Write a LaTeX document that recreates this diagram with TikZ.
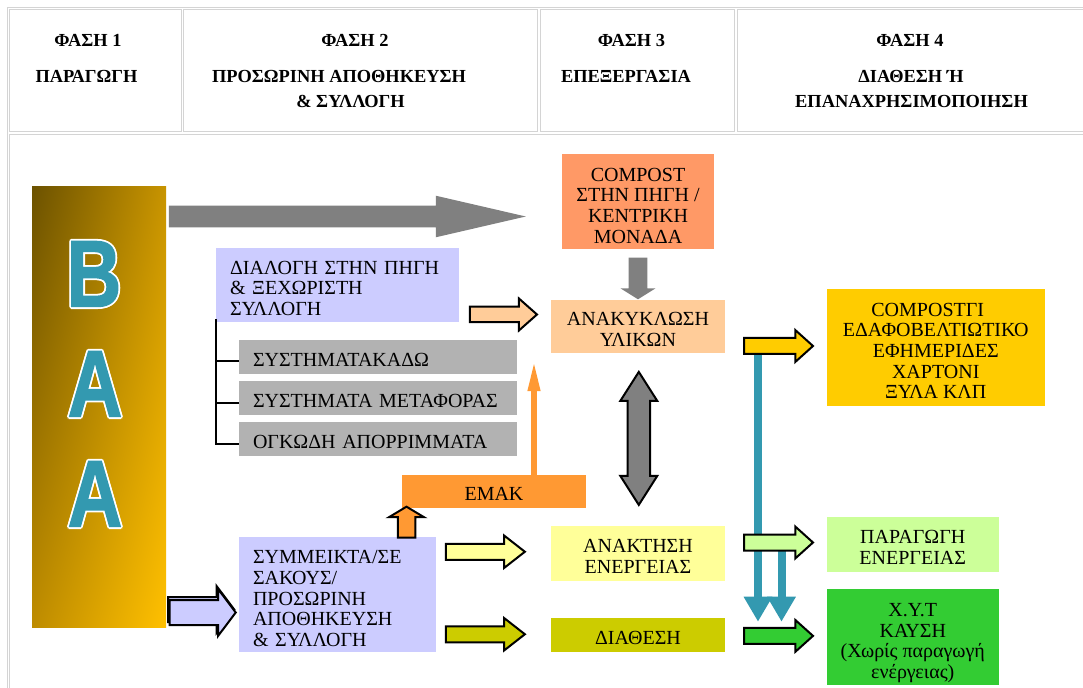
\documentclass[tikz,border=0pt]{standalone}
\usepackage{fontspec}
\usepackage{graphicx}
\setmainfont{Liberation Serif}
\newfontfamily\lsans{Liberation Sans}[BoldFeatures={FakeBold=1.5}]
\usetikzlibrary{shapes.arrows,arrows.meta,calc,shadings}
\definecolor{lav}{HTML}{CCCCFF}
\definecolor{gbox}{HTML}{B2B2B2}
\definecolor{salmon}{HTML}{FF9966}
\definecolor{peach}{HTML}{FFCC99}
\definecolor{emakor}{HTML}{FF9933}
\definecolor{goldc}{HTML}{FFCC00}
\definecolor{lyellow}{HTML}{FFFF99}
\definecolor{olivec}{HTML}{CCCC00}
\definecolor{lgreen}{HTML}{CCFF99}
\definecolor{grn}{HTML}{33CC33}
\definecolor{tealc}{HTML}{3399B0}
\definecolor{agray}{HTML}{808080}
\definecolor{cellc}{HTML}{D4D4D4}
\definecolor{baaTL}{RGB}{108,82,0}
\definecolor{baaTR}{RGB}{200,148,0}
\definecolor{baaBL}{RGB}{190,140,0}
\definecolor{baaBR}{RGB}{255,192,0}
\newcommand\pxu{0.75pt}
\newcommand\bdfont{\fontsize{15}{15.5}\selectfont}
\newcommand\hdrfont{\fontsize{13.8}{14}\selectfont\bfseries}
\newcommand\letfont{\fontsize{71}{71}\selectfont\lsans\bfseries}
\newcommand\dn[1]{\rule{0pt}{#1}}
\begin{document}
\begin{tikzpicture}[x=0.75pt,y=-0.75pt,
  cell/.style={draw=cellc, line width=0.75pt},
  hdr/.style={font=\hdrfont, anchor=base, inner sep=0},
  box/.style={inner sep=0, outer sep=0, font=\bdfont, text=black},
  lbox/.style={box, align=left, inner xsep=14*\pxu},
  cbox/.style={box, align=center},
  blk/.style={single arrow, draw=black, line width=1.5pt, single arrow head indent=0pt, anchor=tip},
  garrow/.style={single arrow, draw=none, fill=agray, single arrow head indent=0pt, anchor=tip},
  tree/.style={draw=black, line width=1.5pt},
  tealline/.style={draw=tealc, line width=6pt, -{Triangle[width=20.25pt,length=18.75pt]}},
  orline/.style={draw=emakor, line width=4pt, -{Triangle[width=8.6pt,length=22.5pt]}},
  bigletter/.style={font=\letfont, anchor=base, inner sep=0}
]
\useasboundingbox (0,0) rectangle (1083,688);
\fill[white] (0,0) rectangle (1083,688);

% table
\draw[cell] (1100,7.5) -- (7.5,7.5) -- (7.5,700);
\draw[cell] (9.5,10) rectangle (181,132);
\draw[cell] (183,10) rectangle (537.5,132);
\draw[cell] (540,10) rectangle (734.5,132);
\draw[cell] (737.5,10) rectangle (1100,132);
\draw[cell] (9.5,135) rectangle (1100,700);

% header texts
\node[hdr] (h1a) at (88,46.5) {ΦΑΣΗ 1};
\node[hdr] (h1b) at (86.5,83) {ΠΑΡΑΓΩΓΗ};
\node[hdr] (h2a) at (355,46.5) {ΦΑΣΗ 2};
\node[hdr] (h2b) at (339,83) {ΠΡΟΣΩΡΙΝΗ ΑΠΟΘΗΚΕΥΣΗ};
\node[hdr] (h2c) at (350.5,108) {\& ΣΥΛΛΟΓΗ};
\node[hdr] (h3a) at (631.5,46.5) {ΦΑΣΗ 3};
\node[hdr] (h3b) at (626,83) {ΕΠΕΞΕΡΓΑΣΙΑ};
\node[hdr] (h4a) at (910,46.5) {ΦΑΣΗ 4};
\node[hdr] (h4b) at (911,83) {ΔΙΑΘΕΣΗ Ή};
\node[hdr] (h4c) at (911.5,108) {ΕΠΑΝΑΧΡΗΣΙΜΟΠΟΙΗΣΗ};

% BAA column
\node[inner sep=0, minimum width=134*\pxu, minimum height=440*\pxu,
  upper left=baaTL, upper right=baaTR, lower left=baaBL, lower right=baaBR] (baa) at (99,407) {};
\foreach \lx/\ly/\lt/\nm in {94/306.5/B/lb, 95/416.5/A/la, 95/526.5/A/lc}{
  \foreach \a in {0,45,...,315}{
    \node[bigletter, text=white] at ($(\lx,\ly)+(\a:1.8)$) {\scalebox{0.8}[1]{\lt}};
  }
  \node[bigletter, text=tealc] (\nm) at (\lx,\ly) {\scalebox{0.8}[1]{\lt}};
}

% big gray arrow
\node[garrow, inner sep=10.5*\pxu, minimum height=357*\pxu, minimum width=41*\pxu, single arrow head extend=10*\pxu, single arrow tip angle=26] (bigarr) at (527,216.5) {};

% boxes
\node[lbox, fill=lav, minimum height=74*\pxu, text width=215*\pxu] (lav1) at (337.5,285) {\dn{15.1pt}ΔΙΑΛΟΓΗ ΣΤΗΝ ΠΗΓΗ\\\& ΞΕΧΩΡΙΣΤΗ\\ΣΥΛΛΟΓΗ};
\node[lbox, fill=gbox, minimum height=34*\pxu, text width=250*\pxu] (g1) at (378,357) {\dn{13.7pt}ΣΥΣΤΗΜΑΤΑΚΑΔΩ};
\node[lbox, fill=gbox, minimum height=34*\pxu, text width=250*\pxu] (g2) at (378,398) {\dn{13.7pt}ΣΥΣΤΗΜΑΤΑ ΜΕΤΑΦΟΡΑΣ};
\node[lbox, fill=gbox, minimum height=34*\pxu, text width=250*\pxu] (g3) at (378,439) {\dn{13.7pt}ΟΓΚΩΔΗ ΑΠΟΡΡΙΜΜΑΤΑ};
\node[lbox, fill=lav, minimum height=115*\pxu, text width=169*\pxu] (lav2) at (337.5,594.5) {\dn{15.9pt}ΣΥΜΜΕΙΚΤΑ/ΣΕ\\ΣΑΚΟΥΣ/\\ΠΡΟΣΩΡΙΝΗ\\ΑΠΟΘΗΚΕΥΣΗ\\\& ΣΥΛΛΟΓΗ};
\node[cbox, fill=emakor, minimum width=184*\pxu, minimum height=33*\pxu] (emak) at (494,491) {\dn{13.8pt}ΕΜΑΚ};
\node[cbox, fill=salmon, minimum width=152*\pxu, minimum height=95*\pxu] (comp) at (638,201.5) {\dn{15.9pt}COMPOST\\ΣΤΗΝ ΠΗΓΗ /\\ΚΕΝΤΡΙΚΗ\\ΜΟΝΑΔΑ};
\node[cbox, fill=peach, minimum width=174*\pxu, minimum height=53*\pxu] (anak) at (638,326.5) {\dn{14.4pt}ΑΝΑΚΥΚΛΩΣΗ\\ΥΛΙΚΩΝ};
\node[cbox, fill=lyellow, minimum width=174*\pxu, minimum height=55*\pxu] (anakt) at (638,553.5) {\dn{14.4pt}ΑΝΑΚΤΗΣΗ\\ΕΝΕΡΓΕΙΑΣ};
\node[cbox, fill=olivec, minimum width=174*\pxu, minimum height=34*\pxu] (diath) at (638,635) {\dn{14.4pt}ΔΙΑΘΕΣΗ};
\node[cbox, fill=goldc, minimum width=218.5*\pxu, minimum height=116.7*\pxu] (compgi) at (935.75,347.35) {\dn{15.1pt}COMPOSTΓΙ\hspace*{12pt}\\ΕΔΑΦΟΒΕΛΤΙΩΤΙΚΟ\\ΕΦΗΜΕΡΙΔΕΣ\\ΧΑΡΤΟΝΙ\\ΞΥΛΑ ΚΛΠ};
\node[cbox, fill=lgreen, minimum width=172.5*\pxu, minimum height=54.7*\pxu] (parag) at (912.75,544.35) {\dn{14.4pt}ΠΑΡΑΓΩΓΗ\\ΕΝΕΡΓΕΙΑΣ};
\node[cbox, fill=grn, minimum width=172.5*\pxu, minimum height=96*\pxu] (xyt) at (912.75,637) {\dn{18.9pt}Χ.Υ.Τ\\ΚΑΥΣΗ\\(Χωρίς παραγωγή\\ενέργειας)};

% tree
\coordinate (b1) at ($(g1.west)+(0,4.5)$);
\coordinate (b2) at ($(g2.west)+(0,4.5)$);
\coordinate (b3) at ($(g3.west)+(0,4.5)$);
\draw[tree] ($(lav1.south west)+(0,-3)$) |- (b3);
\draw[tree] (b1) -- (b1 -| lav1.south west);
\draw[tree] (b2) -- (b2 -| lav1.south west);

% gray down arrow compost -> anakyklosi
\node[garrow, inner sep=9*\pxu, minimum height=41.6*\pxu, minimum width=34*\pxu, single arrow head extend=8*\pxu, single arrow tip angle=116, shape border rotate=270] (cdown) at (638,299.6) {};

% double arrow
\node[double arrow, draw=black, line width=1.5pt, fill=agray, inner sep=10.25*\pxu, minimum height=133*\pxu, minimum width=35*\pxu, double arrow head extend=7.25*\pxu, double arrow tip angle=65, double arrow head indent=0pt, shape border rotate=90] (dbl) at (638.8,438.4) {};

% orange thin arrow emak -> anakyklosi
\coordinate (oa) at (534,361);
\draw[orline] (emak.north -| oa) -- (oa);

% orange up arrow lav2 -> emak
\node[blk, fill=emakor, inner sep=7.75*\pxu, minimum height=31*\pxu, minimum width=33*\pxu, single arrow head extend=8.75*\pxu, single arrow tip angle=118, shape border rotate=90] (oup) at (406.5,505.5) {};

% lavender input arrow (with offset copy)
\node[blk, fill=lav, inner sep=11.5*\pxu, minimum height=66*\pxu, minimum width=45*\pxu, single arrow head extend=11*\pxu, single arrow tip angle=106] (linb) at (235.5,609.5) {};
\node[blk, fill=lav, inner sep=11.5*\pxu, minimum height=66*\pxu, minimum width=45*\pxu, single arrow head extend=11*\pxu, single arrow tip angle=106] (lin) at (237,612.5) {};

% peach arrow
\node[blk, fill=peach, inner sep=6.75*\pxu, minimum height=67*\pxu, minimum width=30*\pxu, single arrow head extend=8.25*\pxu, single arrow tip angle=83] (parr) at (538.5,314.5) {};
% yellow / olive arrows
\node[blk, fill=lyellow, inner sep=7*\pxu, minimum height=79*\pxu, minimum width=30.5*\pxu, single arrow head extend=8.25*\pxu, single arrow tip angle=76] (yarr) at (526.5,551.75) {};
\node[blk, fill=olivec, inner sep=7*\pxu, minimum height=79*\pxu, minimum width=30.5*\pxu, single arrow head extend=8.25*\pxu, single arrow tip angle=76] (oarr) at (526.5,634.25) {};

% teal arrows (behind the right arrows)
\coordinate (t1) at (758,621.7);
\coordinate (t2) at (781.5,621.7);
\draw[tealline] (780,348 -| t1) -- (t1);
\draw[tealline] (781.5,545) -- (t2);

% right arrows
\node[blk, fill=goldc, inner sep=7*\pxu, minimum height=69*\pxu, minimum width=29.6*\pxu, single arrow head extend=7.8*\pxu, single arrow tip angle=84] (garr) at (814.5,346) {};
\node[blk, fill=lgreen, inner sep=7*\pxu, minimum height=69*\pxu, minimum width=29.6*\pxu, single arrow head extend=7.8*\pxu, single arrow tip angle=84] (lgarr) at (814.5,542.5) {};
\node[blk, fill=grn, inner sep=7*\pxu, minimum height=69*\pxu, minimum width=29.6*\pxu, single arrow head extend=7.8*\pxu, single arrow tip angle=84] (grarr) at (814.5,635.9) {};
\end{tikzpicture}
\end{document}
